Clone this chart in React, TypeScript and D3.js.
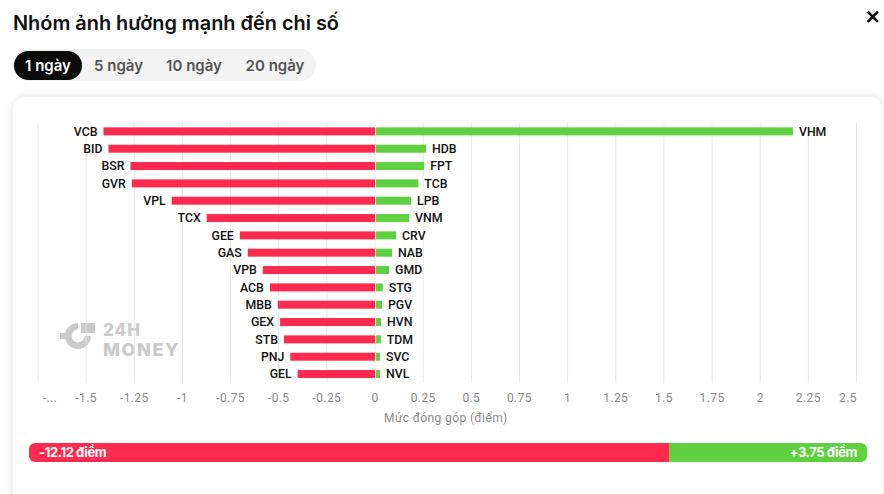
import React from "react";
import * as d3 from "d3";

const negNames = ["VCB", "BID", "BSR", "GVR", "VPL", "TCX", "GEE", "GAS", "VPB", "ACB", "MBB", "GEX", "STB", "PNJ", "GEL"];
const negValues = [-1.41, -1.384, -1.27, -1.263, -1.056, -0.874, -0.702, -0.661, -0.583, -0.546, -0.505, -0.493, -0.473, -0.44, -0.402];
const posNames = ["VHM", "HDB", "FPT", "TCB", "LPB", "VNM", "CRV", "NAB", "GMD", "STG", "PGV", "HVN", "TDM", "SVC", "NVL"];
const posValues = [2.17, 0.265, 0.255, 0.225, 0.187, 0.177, 0.109, 0.088, 0.073, 0.04, 0.036, 0.031, 0.03, 0.026, 0.026];
const tickValues = [-1.75, -1.5, -1.25, -1, -0.75, -0.5, -0.25, 0, 0.25, 0.5, 0.75, 1, 1.25, 1.5, 1.75, 2, 2.25, 2.5];
const tickLabels = ["-...", "-1.5", "-1.25", "-1", "-0.75", "-0.5", "-0.25", "0", "0.25", "0.5", "0.75", "1", "1.25", "1.5", "1.75", "2", "2.25", "2.5"];
const tabs = ["1 ngày", "5 ngày", "10 ngày", "20 ngày"];
const totalNeg = -12.12;
const totalPos = 3.75;

const RED = "#ff2b4f";
const GREEN = "#5fd03f";
const FONT = "Roboto, 'Noto Sans', sans-serif";
const UI = "Inter, 'Noto Sans', sans-serif";

export default function App() {
  const x = d3.scaleLinear().domain([-1.75, 2.5]).range([38, 856.5]);
  const rows = d3.range(negNames.length);
  const y = d3.scaleBand<number>().domain(rows).range([122.7, 382.7]);
  const barH = 8;

  const sumScale = d3.scaleLinear().domain([0, Math.abs(totalNeg) + totalPos]).range([29, 867]);
  const split = sumScale(Math.abs(totalNeg));

  const tabX = [14, 82, 155, 233];
  const tabW = [68, 73, 78, 84];

  return (
    <svg width={884} height={494} style={{ position: "absolute", left: 0, top: 0, background: "#fff" }}>
      <defs>
        <filter id="shadow" x="-5%" y="-10%" width="110%" height="130%">
          <feDropShadow dx="0" dy="0" stdDeviation="4" floodColor="#000" floodOpacity="0.12" />
        </filter>
        <clipPath id="sumclip">
          <rect x={29} y={443} width={838} height={19} rx={6} />
        </clipPath>
      </defs>

      {/* header */}
      <text x={13} y={29.5} fontFamily={UI} fontWeight={600} fontSize={19.9} fill="#111">Nhóm ảnh hưởng mạnh đến chỉ số</text>
      <g stroke="#111" strokeWidth={2.6} strokeLinecap="square">
        <line x1={868.5} y1={12.5} x2={877} y2={21} />
        <line x1={877} y1={12.5} x2={868.5} y2={21} />
      </g>

      {/* tabs */}
      <rect x={13} y={49} width={303} height={32} rx={16} fill="#f3f3f3" />
      {tabs.map((t, i) => (
        <g key={t}>
          {i === 0 && <rect x={tabX[i]} y={51} width={tabW[i]} height={29} rx={14.5} fill="#0b0b0b" />}
          <text
            x={tabX[i] + tabW[i] / 2}
            y={70.5}
            textAnchor="middle"
            fontFamily={UI}
            fontWeight={600}
            fontSize={15}
            fill={i === 0 ? "#fff" : "#555"}
          >
            {t}
          </text>
        </g>
      ))}

      {/* card */}
      <rect x={13} y={97} width={870} height={420} rx={14} fill="#fff" filter="url(#shadow)" />

      {/* watermark */}
      <g fill="#cacaca">
        <path d="M 78 323 L 78 329.5 A 6.5 6.5 0 1 0 84.5 336 L 91 336 A 13 13 0 1 1 78 323 Z" />
        <rect x={81} y={323} width={14} height={10} />
        <rect x={60} y={333} width={6} height={6} />
        <text x={103} y={336} fontFamily={UI} fontWeight={800} fontSize={17} letterSpacing={1}>24H</text>
        <text x={103} y={355.5} fontFamily={UI} fontWeight={800} fontSize={18} letterSpacing={1.6}>MONEY</text>
      </g>

      {/* gridlines */}
      <g>
        {tickValues.map((v) => (
          <line key={v} x1={x(v)} x2={x(v)} y1={122.7} y2={382.7} stroke="#e6e6e6" strokeWidth={1} />
        ))}
      </g>

      {/* bars */}
      <g>
        {rows.map((i) => {
          const cy = (y(i) as number) + y.bandwidth() / 2;
          const x0 = x(0);
          const xn = x(negValues[i]);
          const xp = x(posValues[i]);
          return (
            <g key={i}>
              <rect x={xn} y={cy - barH / 2} width={x0 - xn} height={barH} fill={RED} />
              <rect x={x0 + 1} y={cy - barH / 2} width={xp - x0 - 1} height={barH} fill={GREEN} />
              <text x={xn - 6} y={cy + 4.3} textAnchor="end" fontFamily={FONT} fontWeight={500} fontSize={12.3} fill="#111">{negNames[i]}</text>
              <text x={xp + 6} y={cy + 4.3} textAnchor="start" fontFamily={FONT} fontWeight={500} fontSize={12.3} fill="#111">{posNames[i]}</text>
            </g>
          );
        })}
      </g>

      {/* axis labels */}
      <g fontFamily={FONT} fontSize={12} fill="#8a8a8a" letterSpacing={0.4}>
        {tickValues.map((v, i) => {
          let px = x(v);
          if (i === 0) px += 12;
          if (i === tickValues.length - 1) px -= 8.5;
          return (
            <text key={v} x={px} y={402} textAnchor="middle">{tickLabels[i]}</text>
          );
        })}
        <text x={384} y={422} textAnchor="start">Mức đóng góp (điểm)</text>
      </g>

      {/* summary bar */}
      <g clipPath="url(#sumclip)">
        <rect x={29} y={443} width={split - 29} height={19} fill={RED} />
        <rect x={split} y={443} width={867 - split} height={19} fill={GREEN} />
      </g>
      <text x={39} y={457} fontFamily={UI} fontWeight={700} fontSize={13} fill="#fff" letterSpacing={-0.4}>
        {`${totalNeg.toFixed(2)} điểm`}
      </text>
      <text x={857} y={457} textAnchor="end" fontFamily={UI} fontWeight={700} fontSize={13} fill="#fff" letterSpacing={-0.4}>
        {`+${totalPos.toFixed(2)} điểm`}
      </text>
    </svg>
  );
}
